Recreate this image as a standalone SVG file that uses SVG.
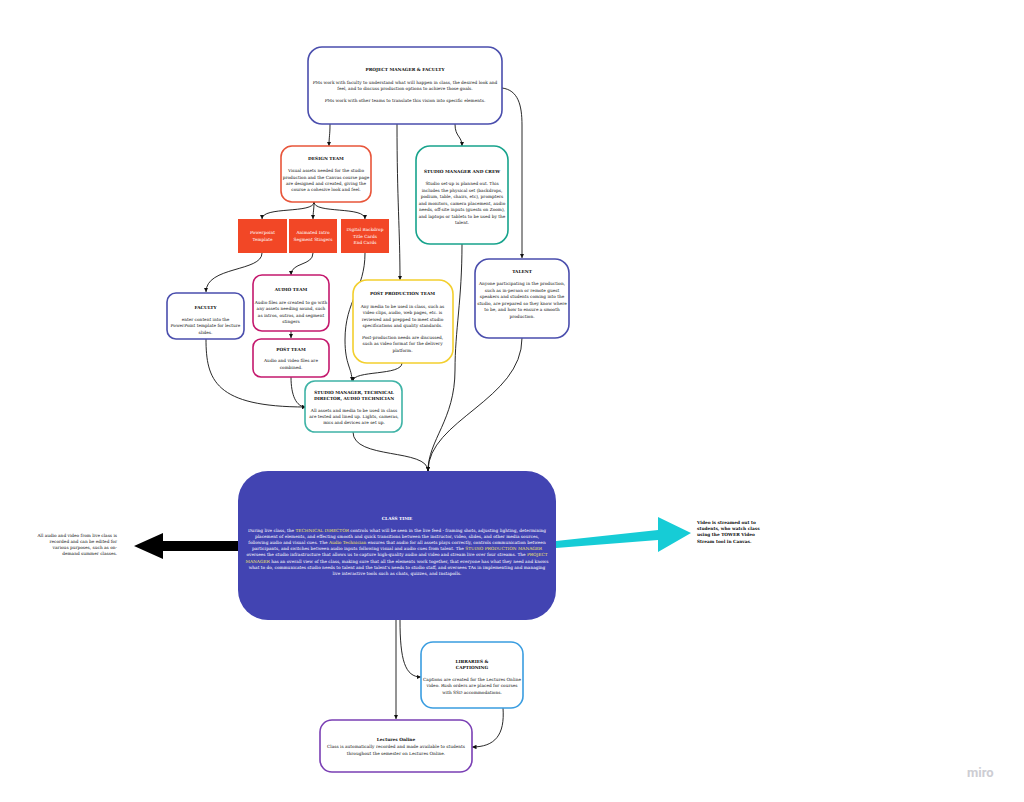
<svg xmlns="http://www.w3.org/2000/svg" width="1024" height="802" viewBox="0 0 1024 802">
<style>
.box{fill:#fff;stroke-width:1.6}
.t{font-family:"DejaVu Serif","Liberation Serif",serif;font-size:4.3px;fill:#151515;text-anchor:middle}
.h{font-family:"DejaVu Serif","Liberation Serif",serif;font-size:4.3px;font-weight:bold;fill:#0d0d0d;text-anchor:middle}
.w{font-family:"DejaVu Serif","Liberation Serif",serif;font-size:4.3px;fill:#fff;text-anchor:middle}
.y{fill:#f3e46a}
.c{fill:none;stroke:#111;stroke-width:0.9}
</style>
<defs>
<marker id="a" viewBox="0 0 10 10" refX="10" refY="5" markerWidth="4.5" markerHeight="4.5" markerUnits="userSpaceOnUse" orient="auto"><path d="M0,0 L10,5 L0,10 z" fill="#111"/></marker>
</defs>
<rect width="1024" height="802" fill="#fff"/>

<g id="connectors">
<path class="c" marker-end="url(#a)" d="M330,124 C330,136 329,136 329,146"/>
<path class="c" marker-end="url(#a)" d="M397,124 C397,200 400,230 400,280"/>
<path class="c" marker-end="url(#a)" d="M455,124 C455,137 462,136 462,146"/>
<path class="c" marker-end="url(#a)" d="M502,88 C518,90 522,105 522,125 L522,258"/>
<path class="c" marker-end="url(#a)" d="M314,202 C314,214 262,206 262,219"/>
<path class="c" marker-end="url(#a)" d="M314,202 C314,210 313,212 313,219"/>
<path class="c" marker-end="url(#a)" d="M314,202 C314,214 365,206 365,219"/>
<path class="c" marker-end="url(#a)" d="M262,253 C262,272 206,266 206,292"/>
<path class="c" marker-end="url(#a)" d="M313,253 C313,266 291,262 291,275"/>
<path class="c" marker-end="url(#a)" d="M291,331 L291,338"/>
<path class="c" marker-end="url(#a)" d="M365,253 C365,290 345,300 345,340 C345,365 352,368 352,381"/>
<path class="c" marker-end="url(#a)" d="M402,363 C402,376 353,370 353,381"/>
<path class="c" marker-end="url(#a)" d="M206,339 C206,380 215,407 306,407"/>
<path class="c" marker-end="url(#a)" d="M291,377 C291,395 296,407 306,407"/>
<path class="c" marker-end="url(#a)" d="M462,244 C462,300 455,330 455,370 C455,420 428,440 428,471"/>
<path class="c" marker-end="url(#a)" d="M522,338 C522,400 428,420 428,471"/>
<path class="c" marker-end="url(#a)" d="M353,432 C353,460 428,448 428,471"/>
<path class="c" marker-end="url(#a)" d="M396,620 L396,719"/>
<path class="c" marker-end="url(#a)" d="M400,620 C400,660 405,677 421,677"/>
<path class="c" marker-end="url(#a)" d="M503,708 C505,735 495,747 472,747"/>
<polygon fill="#000" points="238,541 163,541 163,533 134,546 163,559 163,551 238,551"/>
<polygon fill="#16ccd6" points="556,548 658,540 658,552 691,533 658,517 658,530 556,541"/>
</g>

<g id="pm">
<rect class="box" x="308" y="47" width="194" height="77" rx="14" stroke="#4a4ead"/>
<text class="h" x="405" y="71">PROJECT MANAGER &amp; FACULTY</text>
<text class="t" x="405" y="84">PMs work with faculty to understand what will happen in class, the desired look and</text>
<text class="t" x="405" y="90">feel, and to discuss production options to achieve those goals.</text>
<text class="t" x="405" y="102">PMs work with other teams to translate this vision into specific elements.</text>
</g>

<g id="design">
<rect class="box" x="281" y="146" width="90" height="56" rx="11" stroke="#e8553a"/>
<text class="h" x="326" y="160">DESIGN TEAM</text>
<text class="t" x="326" y="172">Visual assets needed for the studio</text>
<text class="t" x="326" y="178.5">production and the Canvas course page</text>
<text class="t" x="326" y="185">are designed and created, giving the</text>
<text class="t" x="326" y="191">course a cohesive look and feel.</text>
</g>

<g id="ppt">
<rect x="238" y="219" width="49" height="34" fill="#f24726"/>
<text class="w" x="262.5" y="234">Powerpoint</text>
<text class="w" x="262.5" y="240.5">Template</text>
</g>
<g id="intro">
<rect x="289" y="219" width="48" height="34" fill="#f24726"/>
<text class="w" x="313" y="234">Animated Intro</text>
<text class="w" x="313" y="240.5">Segment Stingers</text>
</g>
<g id="backdrop">
<rect x="341" y="219" width="48" height="34" fill="#f24726"/>
<text class="w" x="365" y="231">Digital Backdrop</text>
<text class="w" x="365" y="237.5">Title Cards</text>
<text class="w" x="365" y="244">End Cards</text>
</g>

<g id="crew">
<rect class="box" x="416" y="146" width="92" height="98" rx="14" stroke="#17a38c"/>
<text class="h" x="462" y="173">STUDIO MANAGER AND CREW</text>
<text class="t" x="462" y="185">Studio set-up is planned out. This</text>
<text class="t" x="462" y="191.5">includes the physical set (backdrops,</text>
<text class="t" x="462" y="198">podium, table, chairs, etc), prompters</text>
<text class="t" x="462" y="204.5">and monitors, camera placement, audio</text>
<text class="t" x="462" y="211">needs, off-site inputs (guests on Zoom),</text>
<text class="t" x="462" y="217.5">and laptops or tablets to be used by the</text>
<text class="t" x="462" y="224">talent.</text>
</g>

<g id="faculty">
<rect class="box" x="167" y="293" width="77" height="46" rx="9" stroke="#4a4ead"/>
<text class="h" x="205.5" y="308.5">FACULTY</text>
<text class="t" x="205.5" y="320.5">enter content into the</text>
<text class="t" x="205.5" y="327">PowerPoint template for lecture</text>
<text class="t" x="205.5" y="333.5">slides.</text>
</g>

<g id="audio">
<rect class="box" x="253" y="275" width="76" height="56" rx="9" stroke="#c4186d"/>
<text class="h" x="291" y="291">AUDIO TEAM</text>
<text class="t" x="291" y="303.5">Audio files are created to go with</text>
<text class="t" x="291" y="310">any assets needing sound, such</text>
<text class="t" x="291" y="316.5">as intros, outros, and segment</text>
<text class="t" x="291" y="323">stingers</text>
</g>

<g id="post">
<rect class="box" x="253" y="339" width="76" height="38" rx="8" stroke="#c4186d"/>
<text class="h" x="291" y="350.5">POST TEAM</text>
<text class="t" x="291" y="362">Audio and video files are</text>
<text class="t" x="291" y="368.5">combined.</text>
</g>

<g id="postprod">
<rect class="box" x="353" y="280" width="100" height="83" rx="14" stroke="#f3cf2e"/>
<text class="h" x="402.5" y="295">POST PRODUCTION TEAM</text>
<text class="t" x="402.5" y="307.5">Any media to be used in class, such as</text>
<text class="t" x="402.5" y="314">video clips, audio, web pages, etc. is</text>
<text class="t" x="402.5" y="320.5">reviewed and prepped to meet studio</text>
<text class="t" x="402.5" y="327">specifications and quality standards.</text>
<text class="t" x="402.5" y="338.5">Post-production needs are discussed,</text>
<text class="t" x="402.5" y="345">such as video format for the delivery</text>
<text class="t" x="402.5" y="351.5">platform.</text>
</g>

<g id="talent">
<rect class="box" x="475" y="259" width="94" height="79" rx="14" stroke="#4a4ead"/>
<text class="h" x="522" y="273">TALENT</text>
<text class="t" x="522" y="285">Anyone participating in the production,</text>
<text class="t" x="522" y="291.5">such as in-person or remote guest</text>
<text class="t" x="522" y="298">speakers and students coming into the</text>
<text class="t" x="522" y="304.5">studio, are prepared so they know where</text>
<text class="t" x="522" y="311">to be, and how to ensure a smooth</text>
<text class="t" x="522" y="317.5">production.</text>
</g>

<g id="tech">
<rect class="box" x="305" y="381" width="97" height="51" rx="10" stroke="#3fb3a6"/>
<text class="h" x="354" y="393.5">STUDIO MANAGER, TECHNICAL</text>
<text class="h" x="354" y="399.5">DIRECTOR, AUDIO TECHNICIAN</text>
<text class="t" x="354" y="411.5">All assets and media to be used in class</text>
<text class="t" x="354" y="417.5">are tested and lined up. Lights, cameras,</text>
<text class="t" x="354" y="423.5">mics and devices are set up.</text>
</g>

<g id="classtime">
<rect x="238" y="471" width="318" height="149" rx="30" fill="#4244b2"/>
<text class="w" x="397" y="519.5" font-weight="bold">CLASS TIME</text>
<text class="w" x="397" y="531.5">During live class, the <tspan class="y">TECHNICAL DIRECTOR</tspan> controls what will be seen in the live feed - framing shots, adjusting lighting, determining</text>
<text class="w" x="397" y="537.7">placement of elements, and effecting smooth and quick transitions between the instructor, video, slides, and other media sources,</text>
<text class="w" x="397" y="543.9">following audio and visual cues. The <tspan class="y">Audio Technician</tspan> ensures that audio for all assets plays correctly, controls communication between</text>
<text class="w" x="397" y="550.1">participants, and switches between audio inputs following visual and audio cues from talent. The <tspan class="y">STUDIO PRODUCTION MANAGER</tspan></text>
<text class="w" x="397" y="556.3">oversees the studio infrastructure that allows us to capture high-quality audio and video and stream live over four streams. The <tspan class="y">PROJECT</tspan></text>
<text class="w" x="397" y="562.5"><tspan class="y">MANAGER</tspan> has an overall view of the class, making sure that all the elements work together, that everyone has what they need and knows</text>
<text class="w" x="397" y="568.7">what to do, communicates studio needs to talent and the talent's needs to studio staff, and oversees TAs in implementing and managing</text>
<text class="w" x="397" y="574.9">live interactive tools such as chats, quizzes, and Instapolls.</text>
</g>

<g id="left-note">
<text class="t" x="117" y="537" style="text-anchor:end">All audio and video from live class is</text>
<text class="t" x="117" y="543" style="text-anchor:end">recorded and can be edited for</text>
<text class="t" x="117" y="549" style="text-anchor:end">various purposes, such as on-</text>
<text class="t" x="117" y="555" style="text-anchor:end">demand summer classes.</text>
</g>

<g id="right-note">
<text class="h" x="697" y="524" style="text-anchor:start">Video is streamed out to</text>
<text class="h" x="697" y="530" style="text-anchor:start">students, who watch class</text>
<text class="h" x="697" y="536" style="text-anchor:start">using the TOWER Video</text>
<text class="h" x="697" y="542.5" style="text-anchor:start">Stream tool in Canvas.</text>
</g>

<g id="libraries">
<rect class="box" x="421" y="642" width="102" height="66" rx="12" stroke="#3a9de0"/>
<text class="h" x="472" y="662.5">LIBRARIES &amp;</text>
<text class="h" x="472" y="668.5">CAPTIONING</text>
<text class="t" x="472" y="680.5">Captions are created for the Lectures Online</text>
<text class="t" x="472" y="687">video. Rush orders are placed for courses</text>
<text class="t" x="472" y="693.5">with SSD accommodations.</text>
</g>

<g id="lectures">
<rect class="box" x="320" y="720" width="152" height="52" rx="12" stroke="#7a3fb4"/>
<text class="h" x="396" y="741">Lectures Online</text>
<text class="t" x="396" y="748">Class is automatically recorded and made available to students</text>
<text class="t" x="396" y="754.5">throughout the semester on Lectures Online.</text>
</g>

<text x="967" y="777" font-family="Roboto,'Liberation Sans',sans-serif" font-size="13" font-weight="bold" fill="#cdcdd3">miro</text>
</svg>
